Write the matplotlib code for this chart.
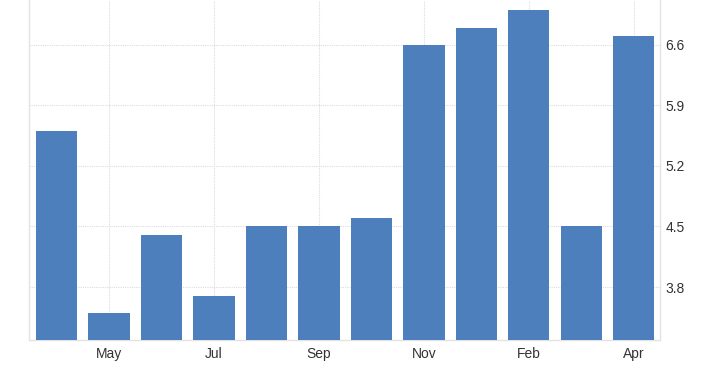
import matplotlib
matplotlib.use("Agg")
import matplotlib.pyplot as plt
import numpy as np

plt.rcParams['font.family'] = ['Liberation Sans', 'DejaVu Sans']

values = [5.6, 3.5, 4.4, 3.7, 4.5, 4.5, 4.6, 6.6, 6.8, 7.0, 4.5, 6.7]
tick_labels = ["May", "Jul", "Sep", "Nov", "Feb", "Apr"]
tick_idx = [1, 3, 5, 7, 9, 11]
yticks = [3.8, 4.5, 5.2, 5.9, 6.6]

fig = plt.figure(figsize=(7.02, 3.75), dpi=100)
ax = fig.add_axes([29/702, 35/375, (660-29)/702, 340/375])

x = np.arange(len(values))
ax.bar(x, values, width=0.79, color="#4c7fbb", zorder=3, bottom=0)
ax.set_xlim(-0.52, 11.5)
ax.set_ylim(3.187, 7.12)

ax.set_yticks(yticks)
ax.set_yticklabels([f"{v:.1f}" for v in yticks])
ax.yaxis.tick_right()
ax.set_xticks(tick_idx)
ax.set_xticklabels(tick_labels)
ax.tick_params(axis='both', length=0, labelsize=10, colors="#333333")
ax.tick_params(axis='y', pad=4)
ax.tick_params(axis='x', pad=5)

ax.grid(True, axis='both', color="#dcdcdc", linestyle=(0, (1, 1)), linewidth=0.8, zorder=0)
for side in ["top"]:
    ax.spines[side].set_visible(False)
for side in ["left", "right", "bottom"]:
    ax.spines[side].set_color("#e3e3e3")
    ax.spines[side].set_linewidth(1.0)

fig.savefig("out.png", dpi=100)
